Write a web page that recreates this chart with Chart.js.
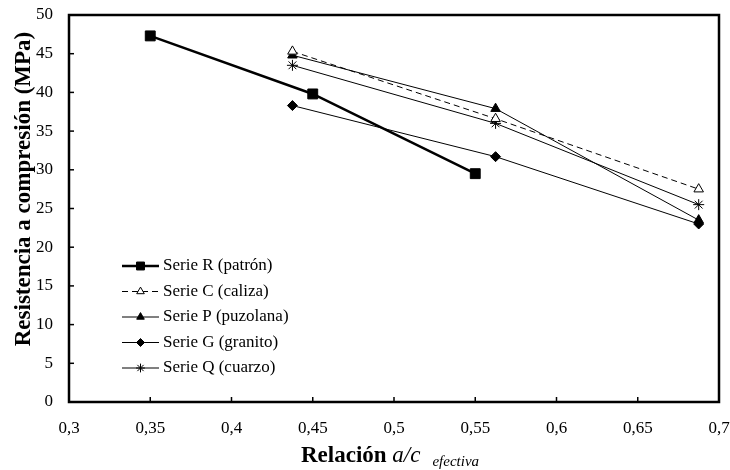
<!DOCTYPE html>
<html lang="es">
<head>
    <meta charset="UTF-8">
    <title>Resistencia a compresión</title>
    <script src="https://cdn.jsdelivr.net/npm/chart.js"></script>
    <style>
        body { margin: 0; background: #fff; }
        #wrap { width: 730px; height: 470px; }
    </style>
</head>
<body>
    <div id="wrap"><canvas id="chart" width="730" height="470"></canvas></div>

    <script>
        // valores
        const serieRx = [0.35, 0.45, 0.55];
        const serieR = [47.3, 39.8, 29.5];
        const mezclasX = [0.4375, 0.5625, 0.6875];
        const serieC = [45.3, 36.6, 27.5];
        const serieP = [44.8, 37.9, 23.5];
        const serieG = [38.3, 31.7, 23.0];
        const serieQ = [43.5, 36.0, 25.5];

        const nombres = ['Serie R (patrón)', 'Serie C (caliza)', 'Serie P (puzolana)', 'Serie G (granito)', 'Serie Q (cuarzo)'];
        const xTickLabels = ['0,3', '0,35', '0,4', '0,45', '0,5', '0,55', '0,6', '0,65', '0,7'];
        const yTickLabels = ['0', '5', '10', '15', '20', '25', '30', '35', '40', '45', '50'];

        const FONT = '"Liberation Serif", "Times New Roman", serif';

        const toPoints = (xs, ys) => ys.map((y, i) => ({ x: xs[i], y: y }));

        // marcos, ticks hacia dentro, leyenda y titulos
        const decoPlugin = {
            id: 'deco',
            afterDraw(chart) {
                const ctx = chart.ctx;
                const a = chart.chartArea;
                const xs = chart.scales.x, ys = chart.scales.y;
                ctx.save();
                ctx.strokeStyle = '#000';
                ctx.lineWidth = 1.5;
                xs.ticks.forEach(t => {
                    const px = xs.getPixelForValue(t.value);
                    ctx.beginPath(); ctx.moveTo(px, a.bottom); ctx.lineTo(px, a.bottom - 5); ctx.stroke();
                });
                ys.ticks.forEach(t => {
                    const py = ys.getPixelForValue(t.value);
                    ctx.beginPath(); ctx.moveTo(a.left, py); ctx.lineTo(a.left + 5, py); ctx.stroke();
                });
                ctx.lineWidth = 2.5;
                ctx.strokeRect(a.left, a.top, a.right - a.left, a.bottom - a.top);

                // leyenda
                const lx0 = 122, lx1 = 159;
                chart.data.datasets.forEach((ds, i) => {
                    const y = 266 + i * 25.5;
                    ctx.setLineDash(ds.borderDash || []);
                    ctx.lineWidth = ds.borderWidth;
                    ctx.strokeStyle = '#000';
                    ctx.beginPath(); ctx.moveTo(lx0, y); ctx.lineTo(lx1, y); ctx.stroke();
                    ctx.setLineDash([]);
                    ctx.fillStyle = ds.pointBackgroundColor;
                    ctx.lineWidth = 1;
                    Chart.helpers.drawPoint(ctx, {
                        pointStyle: ds.pointStyle, radius: ds.pointRadius * 0.8,
                        rotation: 0, borderWidth: 1
                    }, (lx0 + lx1) / 2, y);
                    ctx.fillStyle = '#000';
                    ctx.font = '17px ' + FONT;
                    ctx.textAlign = 'left';
                    ctx.textBaseline = 'middle';
                    ctx.fillText(ds.label, lx1 + 4, y);
                });

                // titulo eje y
                ctx.save();
                ctx.translate(24, 189);
                ctx.rotate(-Math.PI / 2);
                ctx.font = 'bold 23px ' + FONT;
                ctx.textAlign = 'center';
                ctx.textBaseline = 'middle';
                ctx.fillStyle = '#000';
                ctx.fillText('Resistencia a compresión (MPa)', 0, 0);
                ctx.restore();

                // titulo eje x con subindice
                const base = 462;
                const p1 = 'Relación ', p2 = 'a/c', p3 = 'efectiva';
                ctx.textBaseline = 'alphabetic';
                ctx.textAlign = 'left';
                ctx.font = 'bold 23px ' + FONT;
                const w1 = ctx.measureText(p1).width;
                ctx.font = 'italic 23px ' + FONT;
                const w2 = ctx.measureText(p2).width;
                ctx.font = 'italic 15px ' + FONT;
                const w3 = ctx.measureText(p3).width;
                const gap = 12;
                let x = (a.left + a.right) / 2 - 4 - (w1 + w2 + gap + w3) / 2;
                ctx.font = 'bold 23px ' + FONT;
                ctx.fillText(p1, x, base);
                x += w1;
                ctx.font = 'italic 23px ' + FONT;
                ctx.fillText(p2, x, base);
                x += w2 + gap;
                ctx.font = 'italic 15px ' + FONT;
                ctx.fillText(p3, x, base + 4);
                ctx.restore();
            }
        };

        const common = { borderColor: '#000', pointBorderColor: '#000', showLine: true, pointBorderWidth: 1 };

        // fija el tamaño de los ejes para que el area coincida con el original
        const fixBox = (s, w, h) => {
            if (w !== null) s.width = w;
            if (h !== null) s.height = h;
            s.paddingTop = 0; s.paddingBottom = 0; s.paddingLeft = 0; s.paddingRight = 0;
        };

        new Chart(document.getElementById('chart').getContext('2d'), {
            type: 'scatter',
            data: {
                datasets: [
                    Object.assign({}, common, {
                        label: nombres[0], data: toPoints(serieRx, serieR),
                        borderWidth: 2.5, pointStyle: 'rect', pointRadius: 7, pointBackgroundColor: '#000'
                    }),
                    Object.assign({}, common, {
                        label: nombres[1], data: toPoints(mezclasX, serieC),
                        borderWidth: 1, borderDash: [6, 4], pointStyle: 'triangle', pointRadius: 5.5, pointBackgroundColor: '#fff'
                    }),
                    Object.assign({}, common, {
                        label: nombres[2], data: toPoints(mezclasX, serieP),
                        borderWidth: 1, pointStyle: 'triangle', pointRadius: 5.5, pointBackgroundColor: '#000'
                    }),
                    Object.assign({}, common, {
                        label: nombres[3], data: toPoints(mezclasX, serieG),
                        borderWidth: 1, pointStyle: 'rectRot', pointRadius: 5, pointBackgroundColor: '#000'
                    }),
                    Object.assign({}, common, {
                        label: nombres[4], data: toPoints(mezclasX, serieQ),
                        borderWidth: 1, pointStyle: 'star', pointRadius: 5.5, pointBackgroundColor: '#000'
                    })
                ]
            },
            options: {
                responsive: false,
                animation: false,
                layout: { padding: { left: 0, top: 15, right: 11, bottom: 0 } },
                plugins: { legend: { display: false }, tooltip: { enabled: false } },
                scales: {
                    x: {
                        type: 'linear', min: 0.3, max: 0.7,
                        grid: { display: false, drawTicks: false },
                        border: { display: false },
                        ticks: {
                            stepSize: 0.05, padding: 16, color: '#000',
                            font: { family: FONT, size: 17 },
                            callback: (v, i) => xTickLabels[i]
                        },
                        afterFit: s => fixBox(s, null, 68)
                    },
                    y: {
                        min: 0, max: 50,
                        grid: { display: false, drawTicks: false },
                        border: { display: false },
                        ticks: {
                            stepSize: 5, padding: 16, color: '#000',
                            font: { family: FONT, size: 17 },
                            callback: (v, i) => yTickLabels[i]
                        },
                        afterFit: s => fixBox(s, 69, null)
                    }
                }
            },
            plugins: [decoPlugin]
        });
    </script>
</body>
</html>
